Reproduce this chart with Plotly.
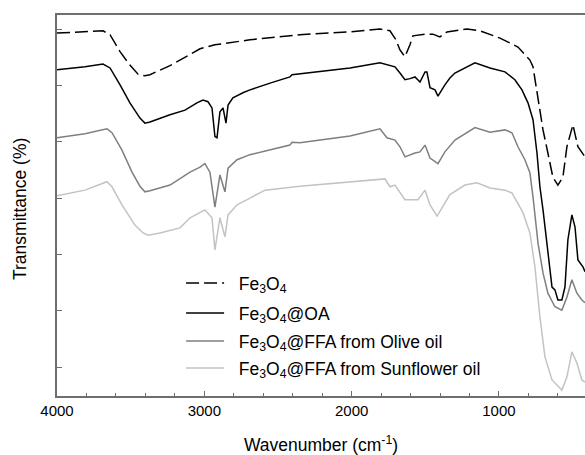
import plotly.graph_objects as go

# ---- data (wavenumber in cm^-1, transmittance in arbitrary offset units) ----
fe3o4_wn = [4000, 3810, 3688, 3640, 3572, 3505, 3450, 3403, 3369, 3233, 3029, 2928, 2690, 2351,
            2011, 1808, 1740, 1699, 1672, 1638, 1604, 1584, 1502, 1448, 1401, 1353, 1217, 1129,
            993, 871, 790, 769, 735, 701, 668, 634, 600, 566, 539, 498, 464, 437, 416]
fe3o4_t = [59.3, 59.5, 59.7, 59.0, 56.0, 53.6, 52.0, 51.7, 51.9, 53.5, 56.5, 57.2, 58.1, 59.0,
           59.5, 60.0, 59.7, 58.1, 56.3, 55.1, 57.2, 58.8, 59.1, 59.1, 58.6, 59.5, 60.0, 59.7,
           58.4, 56.8, 54.5, 53.3, 48.0, 42.1, 38.0, 33.7, 32.3, 33.7, 39.1, 43.0, 39.1, 38.0, 37.3]

oa_wn = [4000, 3810, 3688, 3640, 3572, 3505, 3437, 3403, 3369, 3301, 3233, 3131, 3050, 3009,
         2975, 2948, 2928, 2914, 2894, 2873, 2853, 2839, 2806, 2738, 2690, 2554, 2419, 2405,
         2011, 1808, 1774, 1706, 1672, 1638, 1604, 1570, 1536, 1502, 1489, 1468, 1434, 1414,
         1367, 1333, 1299, 1163, 1061, 959, 892, 844, 803, 769, 742, 722, 701, 674, 640, 620,
         600, 573, 552, 532, 505, 484, 464, 430, 416]
oa_t = [52.8, 53.3, 53.8, 53.1, 50.1, 46.9, 44.2, 43.3, 43.5, 44.2, 44.8, 45.6, 46.9, 47.4,
        47.1, 46.0, 40.9, 40.7, 45.3, 46.0, 43.3, 46.5, 47.8, 48.7, 49.2, 50.4, 51.5, 51.9,
        53.1, 54.0, 53.8, 53.3, 52.2, 51.0, 51.2, 51.5, 50.6, 52.4, 52.4, 49.6, 49.2, 48.1,
        50.1, 51.3, 52.2, 54.0, 53.1, 52.4, 51.0, 49.2, 46.9, 43.9, 38.0, 32.0, 27.9, 21.3,
        14.2, 13.7, 11.9, 11.9, 14.2, 22.6, 27.0, 24.9, 19.0, 17.8, 16.9]

olive_wn = [4000, 3810, 3661, 3627, 3559, 3491, 3437, 3403, 3369, 3233, 3097, 3029, 2996, 2962,
            2928, 2894, 2860, 2839, 2778, 2690, 2419, 2405, 2351, 2011, 1808, 1760, 1706, 1672,
            1638, 1570, 1536, 1502, 1468, 1414, 1367, 1299, 1163, 1061, 959, 912, 871, 824, 790,
            769, 735, 701, 668, 620, 573, 539, 505, 471, 437, 416]
olive_t = [40.7, 41.4, 42.3, 41.6, 38.5, 34.6, 32.1, 31.1, 31.3, 32.3, 34.6, 35.5, 36.1, 34.6,
           28.4, 34.1, 31.1, 35.3, 36.8, 37.7, 39.4, 39.9, 39.8, 41.0, 42.3, 40.7, 40.3, 39.1,
           37.3, 38.0, 38.2, 39.4, 37.1, 36.1, 38.2, 40.3, 42.5, 41.7, 42.1, 41.6, 39.1, 36.8, 34.5,
           30.2, 22.0, 16.7, 13.1, 10.7, 10.1, 12.4, 15.5, 13.1, 11.9, 11.4]

sun_wn = [4000, 3810, 3661, 3627, 3559, 3471, 3416, 3382, 3301, 3165, 3097, 3029, 2996, 2948,
          2928, 2894, 2860, 2839, 2778, 2690, 2588, 2351, 2011, 1774, 1740, 1706, 1638, 1550,
          1502, 1468, 1420, 1333, 1231, 1149, 1061, 959, 912, 871, 837, 790, 756, 722, 688, 640,
          606, 573, 539, 505, 471, 437, 416]
sun_t = [30.4, 31.4, 32.9, 32.0, 28.8, 25.2, 23.8, 23.4, 23.8, 24.7, 26.5, 27.5, 27.9, 26.5,
         20.8, 26.5, 23.1, 27.0, 28.8, 30.0, 31.4, 32.1, 32.9, 33.4, 32.0, 32.3, 29.7, 29.7,
         31.4, 28.8, 26.8, 30.6, 32.3, 32.7, 31.8, 31.4, 30.9, 29.1, 27.4, 23.8, 17.8, 8.9, 1.8,
         -2.3, -3.2, -4.1, -1.8, 2.7, 0.7, -2.3, -2.7]

names = ["Fe<sub>3</sub>O<sub>4</sub>",
         "Fe<sub>3</sub>O<sub>4</sub>@OA",
         "Fe<sub>3</sub>O<sub>4</sub>@FFA from Olive oil",
         "Fe<sub>3</sub>O<sub>4</sub>@FFA from Sunflower oil"]

x_ticks = [4000, 3000, 2000, 1000]
y_ticks = [0, 10, 20, 30, 40, 50, 60]

FONT = "Liberation Sans, Arial, sans-serif"

# layout constants (pixels in the 585x455 figure)
L, T, B = 57, 15, 59
PH = 455 - T - B
legend_rows_px = [283, 313, 341, 368]

fig = go.Figure()
series = [(fe3o4_wn, fe3o4_t, "#000000", "13px,5px"),
          (oa_wn, oa_t, "#000000", "solid"),
          (olive_wn, olive_t, "#7f7f7f", "solid"),
          (sun_wn, sun_t, "#c3c3c3", "solid")]
legend_ids = ["legend", "legend2", "legend3", "legend4"]
for i, (wx, ty, col, dash) in enumerate(series):
    fig.add_trace(go.Scatter(x=wx, y=ty, mode="lines", name="\u00a0\u00a0" + names[i],
                             legend=legend_ids[i],
                             line=dict(color=col, width=1.5, dash=dash)))

legend_common = dict(x=0.235, xanchor="left", yanchor="middle",
                     font=dict(family=FONT, size=17.5, color="black"),
                     bgcolor="rgba(0,0,0,0)", borderwidth=0, itemwidth=38)
legend_layout = {}
for i, lid in enumerate(legend_ids):
    legend_layout[lid] = dict(legend_common, y=(455 - B - legend_rows_px[i]) / PH)

axis_col = "#6e6e6e"
fig.update_layout(
    width=585, height=455,
    margin=dict(l=L, r=0, t=T, b=B),
    paper_bgcolor="white", plot_bgcolor="white",
    font=dict(family=FONT, color="black", size=15),
    showlegend=True,
    **legend_layout,
    xaxis=dict(range=[4000, 416], tickvals=x_ticks, ticks="inside", ticklen=5,
               tickwidth=1, tickcolor=axis_col,
               minor=dict(dtick=200, ticks="inside", ticklen=3, tickcolor=axis_col, tickwidth=1),
               showline=True, linecolor=axis_col, linewidth=1.5, mirror=True,
               showgrid=False, zeroline=False,
               tickfont=dict(family=FONT, size=15, color="black"),
               title=dict(text="Wavenumber (cm<sup>-1</sup>)", standoff=22,
                          font=dict(family=FONT, size=17.5, color="black"))),
    yaxis=dict(range=[-5.15, 62.5], tickvals=y_ticks, ticks="inside", ticklen=5,
               tickwidth=1, tickcolor=axis_col, showticklabels=False,
               showline=True, linecolor=axis_col, linewidth=1.5,
               showgrid=False, zeroline=False),
    annotations=[dict(text="Transmittance (%)", textangle=-90, showarrow=False,
                      xref="paper", yref="paper",
                      x=(20 - L) / 528, y=(455 - B - 209) / PH,
                      xanchor="center", yanchor="middle",
                      font=dict(family=FONT, size=17.5, color="black"))],
)

fig.write_html("out.html")
